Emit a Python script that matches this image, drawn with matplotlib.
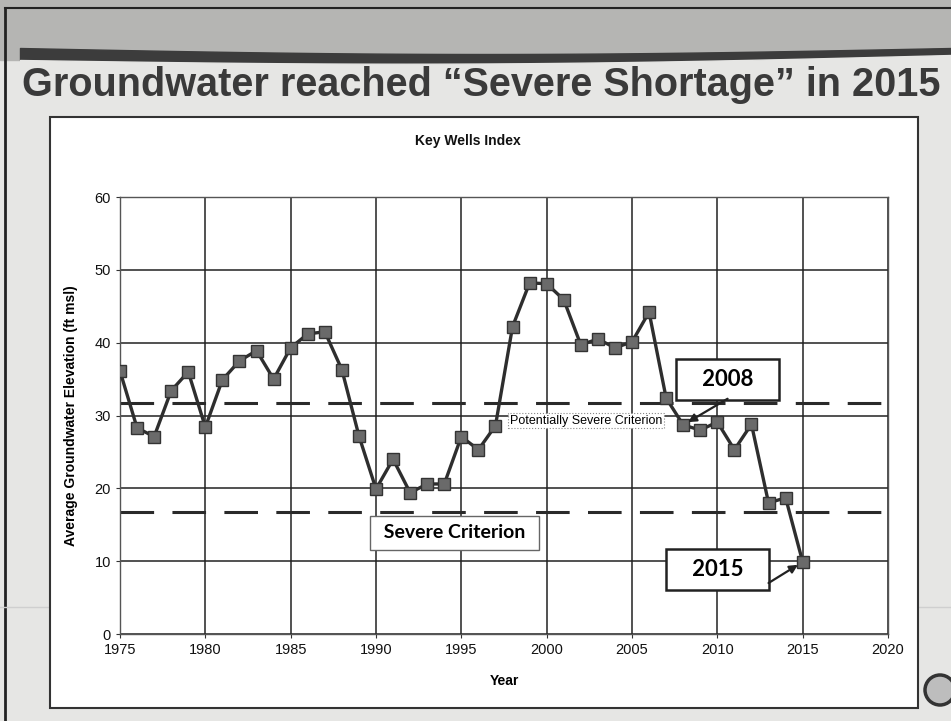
import matplotlib
matplotlib.use("Agg")
import matplotlib.pyplot as plt
from matplotlib.patches import Rectangle, Circle
import numpy as np

# Key Wells Index, average groundwater elevation (ft msl)
years = list(range(1975, 2016))
elevation = [36.1, 28.3, 27.1, 33.4, 36.0, 28.4, 34.9, 37.5, 38.9, 35.0,
             39.3, 41.2, 41.5, 36.3, 27.2, 19.9, 24.0, 19.4, 20.6, 20.6,
             27.1, 25.3, 28.6, 42.2, 48.2, 48.1, 45.9, 39.7, 40.5, 39.3,
             40.1, 44.2, 32.4, 28.7, 28.0, 29.1, 25.3, 28.8, 18.0, 18.7,
             9.9]
potentially_severe = 31.7
severe = 16.8

title = "Groundwater reached \u201cSevere Shortage\u201d in 2015"
chart_title = "Key Wells Index"
x_ticks = [1975, 1980, 1985, 1990, 1995, 2000, 2005, 2010, 2015, 2020]
y_ticks = [0, 10, 20, 30, 40, 50, 60]

W, H = 951, 721
fig = plt.figure(figsize=(W / 100, H / 100), dpi=100)
fig.patch.set_facecolor("#e6e6e4")

def px(x, y, w, h):
    # pixel box (top-left origin) -> figure fraction
    return [x / W, 1 - (y + h) / H, w / W, h / H]

# slide background
bg = fig.add_axes([0, 0, 1, 1])
bg.set_xlim(0, W)
bg.set_ylim(H, 0)
bg.axis("off")
bg.add_patch(Rectangle((0, 0), W, 60, color="#b5b5b3", zorder=0))
xs = np.linspace(20, W, 200)
wave_top = 48 + 6 * np.sin((xs - 20) / (W - 20) * np.pi)
bg.fill_between(xs, wave_top, wave_top + 12 - 5 * (xs - 20) / (W - 20),
                color="#3c3c3c", zorder=1)
bg.fill_between(xs, wave_top + 12 - 5 * (xs - 20) / (W - 20), 100,
                color="#e6e6e4", zorder=1)
bg.plot([5, 5], [8, H], color="#222222", lw=2)
bg.plot([5, W], [8, 8], color="#222222", lw=1.5)
bg.plot([0, 50], [607, 607], color="#cfcfcf", lw=1)
bg.plot([918, W], [607, 607], color="#cfcfcf", lw=1)
bg.add_patch(Rectangle((50, 117), 868, 591, facecolor="white",
                       edgecolor="#333333", lw=1.5, zorder=2))
bg.add_patch(Circle((940, 690), 15, facecolor="#bdbdbd", edgecolor="#333333",
                    lw=2.5, zorder=3))
bg.text(22, 85, title, ha="left", va="center", fontsize=28.5,
        fontweight="bold", color="#3a3a3a", family="Liberation Sans",
        zorder=3)
bg.text(468, 141, chart_title, ha="center", va="center", fontsize=10,
        fontweight="bold", color="#111111", family="Liberation Sans", zorder=3)

# chart
ax = fig.add_axes(px(120, 197, 768, 437))
ax.set_facecolor("white")
ax.set_xlim(1975, 2020)
ax.set_ylim(0, 60)
ax.set_xticks(x_ticks)
ax.set_yticks(y_ticks)
ax.grid(True, color="#222222", lw=1.1)
ax.set_axisbelow(True)
for s in ax.spines.values():
    s.set_color("#555555")
    s.set_linewidth(1)
ax.tick_params(labelsize=10.5, length=3, color="#333333", labelcolor="#111111")
for lab in ax.get_xticklabels() + ax.get_yticklabels():
    lab.set_family("Liberation Sans")

ax.axhline(potentially_severe, color="#2a2a2a", lw=2.2, dashes=(11, 6), zorder=2)
ax.axhline(severe, color="#2a2a2a", lw=2.2, dashes=(11, 6), zorder=2)

ax.plot(years, elevation, color="#2e2e2e", lw=2.4, marker="s", ms=8,
        mfc="#6a6a6a", mec="#333333", mew=1, zorder=4)

ax.set_xlabel("Year", fontsize=10, fontweight="bold", family="Liberation Sans",
              labelpad=12)
ax.set_ylabel("Average Groundwater Elevation (ft msl)", fontsize=10,
              fontweight="bold", family="Liberation Sans", labelpad=12)

box = dict(boxstyle="square,pad=0.45", facecolor="white", edgecolor="#222222",
           lw=1.8)
arrow = dict(arrowstyle="-|>", color="#222222", lw=1.6, shrinkA=0, shrinkB=4,
             mutation_scale=12)
ax.text(2010.6, 34.9, "   2008   ", ha="center", va="center", fontsize=16,
        fontweight="bold", family="Lato", bbox=box, zorder=6)
ax.annotate("", xy=(2008, elevation[33]), xytext=(2010.6, 32.3),
            arrowprops=arrow, zorder=6)
ax.text(2010.0, 8.8, "   2015   ", ha="center", va="center", fontsize=16,
        fontweight="bold", family="Lato", bbox=box, zorder=6)
ax.annotate("", xy=(2015, elevation[40]), xytext=(2013.0, 7.0),
            arrowprops=arrow, zorder=6)
ax.text(1994.6, 13.9, " Severe Criterion ", ha="center", va="center",
        fontsize=14, fontweight="bold", family="Lato", zorder=6,
        bbox=dict(boxstyle="square,pad=0.45", facecolor="white",
                  edgecolor="#666666", lw=1))
ax.text(2002.3, 29.3, "Potentially Severe Criterion", ha="center",
        va="center", fontsize=9, family="Liberation Sans", zorder=5,
        bbox=dict(boxstyle="square,pad=0.15", facecolor="white",
                  edgecolor="#888888", lw=0.8, ls=":"))

fig.savefig("out.png", dpi=100)
